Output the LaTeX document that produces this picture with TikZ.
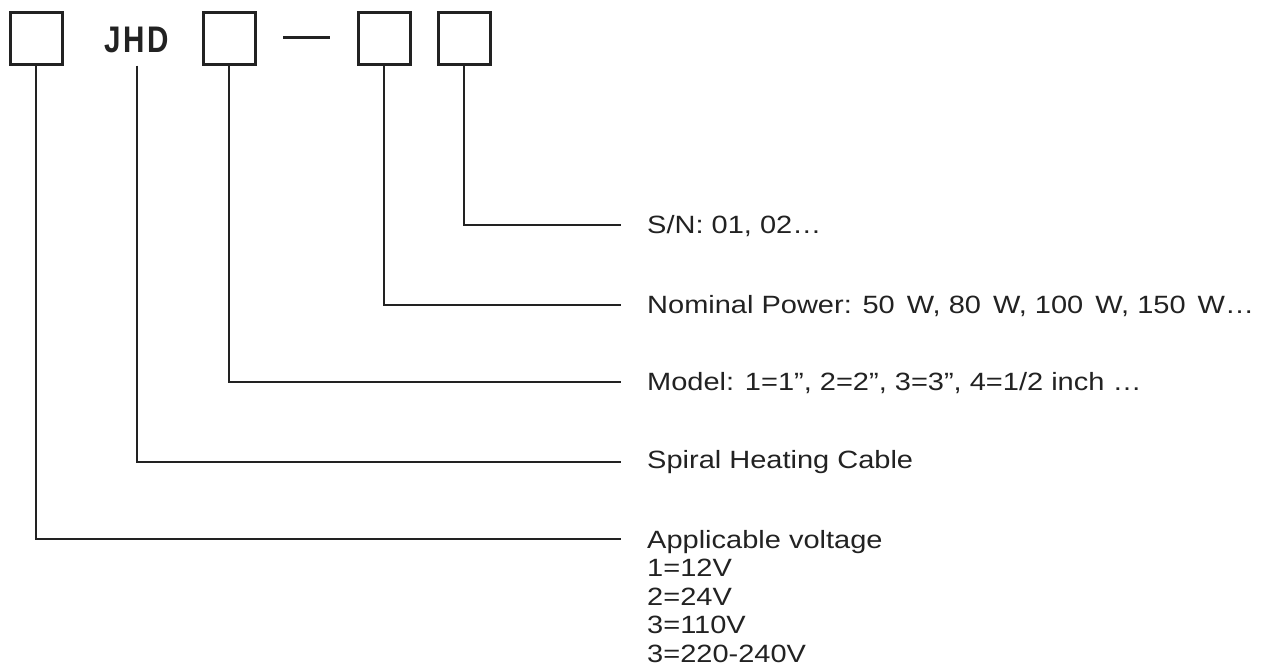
\documentclass[tikz,border=0pt]{standalone}
\usepackage{fontspec}
\usetikzlibrary{positioning}
\newfontfamily\lblfont[FakeStretch=1.16]{Liberation Sans}
\newfontfamily\codefont[FakeStretch=0.8,LetterSpace=7]{Liberation Sans}
\definecolor{ink}{HTML}{222222}

\begin{document}
\begin{tikzpicture}[
  x=1pt, y=-1pt,
  font=\lblfont\fontsize{25}{28.5}\selectfont,
  digit/.style={draw=ink, line width=3pt, minimum size=52pt, inner sep=0pt},
  lead/.style={draw=ink, line width=2pt},
  lbl/.style={anchor=base west, inner sep=0pt, text=ink, align=left}
]
\useasboundingbox (0,0) rectangle (1269,669);

% code boxes
\node[digit] (volt) at (36,38.5) {};
\node[inner sep=0pt, anchor=base, text=ink, font=\codefont\bfseries\fontsize{37}{37}\selectfont] (code) at (137,53) {JHD};
\node[digit] (model) at (229,38.5) {};
\node[fill=ink, inner sep=0pt, minimum width=47pt, minimum height=3pt] (sep) at (306.5,38) {};
\node[digit] (power) at (384,38.5) {};
\node[digit] (serial) at (464,38.5) {};

% line ends
\coordinate (e1) at (621,225);
\coordinate (e2) at (621,305);
\coordinate (e3) at (621,382);
\coordinate (e4) at (621,462);
\coordinate (e5) at (621,539);

% labels
\node[lbl] (sn) at (647,233) {S/N: 01, 02…};
\node[lbl] (nom) at (647,313) {Nominal Power: 50\ \hspace{4pt}W, 80\ \hspace{4pt}W, 100\ \hspace{4pt}W, 150\ \hspace{4pt}W…};
\node[lbl] (mdl) at (647,390) {Model: 1=1”, 2=2”, 3=3”, 4=1/2 inch …};
\node[lbl] (cable) at (647,468) {Spiral Heating Cable};
\node[lbl, anchor=north west] (appl) at (647,530) {Applicable voltage\\1=12V\\2=24V\\3=110V\\3=220-240V};

\draw[lead] (serial.south) |- (e1);
\draw[lead] (power.south) |- (e2);
\draw[lead] (model.south) |- (e3);
\draw[lead] ([yshift=-12pt]code.south) |- (e4);
\draw[lead] (volt.south) |- (e5);

\end{tikzpicture}
\end{document}
